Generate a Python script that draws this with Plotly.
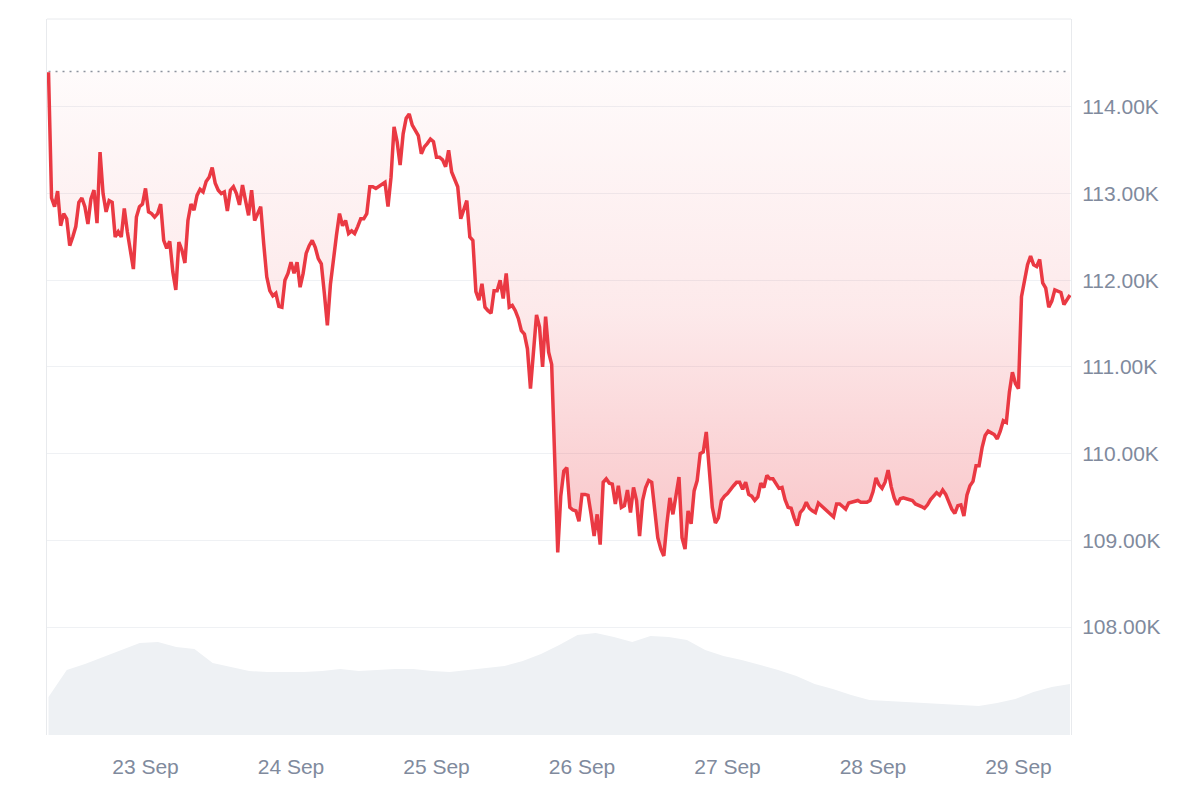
import pandas as pd
import plotly.graph_objects as go

# ---- data (prices in thousands of USD, 30-minute samples) ----
start_time = "2025-09-22 08:00"
step_minutes = 30
open_price_k = 114.41

price_k = [
    114.40, 112.95, 112.85, 113.03, 112.63, 112.77, 112.71, 112.40, 112.50, 112.62,
    112.90, 112.95, 112.85, 112.65, 112.94, 113.04, 112.66, 113.48, 113.00, 112.79,
    112.92, 112.90, 112.50, 112.56, 112.50, 112.83, 112.56, 112.31, 112.13, 112.73,
    112.85, 112.88, 113.06, 112.79, 112.77, 112.73, 112.77, 112.88, 112.46, 112.37,
    112.45, 112.10, 111.89, 112.44, 112.35, 112.20, 112.69, 112.88, 112.81, 112.98,
    113.05, 113.02, 113.14, 113.19, 113.30, 113.12, 113.04, 113.00, 113.02, 112.80,
    113.04, 113.08, 113.00, 112.87, 113.10, 112.92, 112.75, 113.04, 112.69, 112.77,
    112.85, 112.42, 112.04, 111.88, 111.82, 111.85, 111.70, 111.69, 112.00, 112.08,
    112.21, 112.08, 112.21, 111.92, 112.08, 112.31, 112.40, 112.46, 112.38, 112.25,
    112.19, 111.85, 111.48, 111.95, 112.27, 112.52, 112.77, 112.63, 112.69, 112.54,
    112.57, 112.54, 112.62, 112.71, 112.71, 112.77, 113.08, 113.08, 113.06, 113.08,
    113.10, 113.13, 112.85, 113.19, 113.77, 113.60, 113.33, 113.69, 113.87, 113.92,
    113.79, 113.73, 113.67, 113.46, 113.54, 113.58, 113.63, 113.60, 113.42, 113.42,
    113.39, 113.31, 113.50, 113.25, 113.15, 113.08, 112.71, 112.81, 112.92, 112.50,
    112.46, 111.87, 111.77, 111.96, 111.69, 111.65, 111.62, 111.88, 111.88, 112.00,
    111.79, 112.08, 111.69, 111.71, 111.65, 111.56, 111.42, 111.38, 111.21, 110.75,
    111.23, 111.60, 111.46, 111.00, 111.58, 111.17, 111.03, 109.90, 108.86, 109.51,
    109.80, 109.84, 109.38, 109.35, 109.34, 109.22, 109.53, 109.53, 109.52, 109.30,
    109.05, 109.30, 108.95, 109.67, 109.71, 109.66, 109.65, 109.42, 109.63, 109.38,
    109.40, 109.58, 109.32, 109.61, 109.46, 109.05, 109.46, 109.61, 109.69, 109.67,
    109.38, 109.03, 108.90, 108.82, 109.19, 109.49, 109.30, 109.53, 109.73, 109.03,
    108.90, 109.34, 109.19, 109.57, 109.69, 110.00, 110.02, 110.25, 109.76, 109.38,
    109.20, 109.26, 109.46, 109.51, 109.54, 109.59, 109.63, 109.67, 109.67, 109.59,
    109.67, 109.53, 109.51, 109.46, 109.50, 109.66, 109.61, 109.75, 109.71, 109.71,
    109.66, 109.60, 109.61, 109.47, 109.38, 109.37, 109.26, 109.17, 109.32, 109.36,
    109.44, 109.37, 109.34, 109.32, 109.43, 109.40, 109.37, 109.34, 109.31, 109.27,
    109.42, 109.42, 109.39, 109.36, 109.43, 109.44, 109.46, 109.46, 109.44, 109.44,
    109.44, 109.46, 109.56, 109.72, 109.64, 109.60, 109.67, 109.81, 109.62, 109.49,
    109.41, 109.48, 109.49, 109.48, 109.47, 109.46, 109.42, 109.41, 109.39, 109.37,
    109.41, 109.47, 109.51, 109.55, 109.52, 109.58, 109.53, 109.43, 109.36, 109.31,
    109.40, 109.41, 109.28, 109.52, 109.63, 109.68, 109.86, 109.86, 110.07, 110.21,
    110.26, 110.24, 110.22, 110.17, 110.26, 110.38, 110.36, 110.71, 110.94, 110.81,
    110.75, 111.81, 112.00, 112.18, 112.28, 112.18, 112.16, 112.24, 111.97, 111.91,
    111.69, 111.76, 111.89, 111.88, 111.86, 111.72, 111.77, 111.83,
]

# 24h volume (billions USD), roughly every 3 hours
volume_b = [
    30.4, 52.0, 56.8, 62.4, 68.0, 73.6, 74.4, 70.4, 68.8, 57.6,
    54.4, 51.2, 50.4, 50.4, 50.4, 51.2, 52.8, 51.2, 52.0, 52.8,
    52.8, 51.2, 50.4, 52.0, 53.6, 55.2, 59.2, 64.8, 72.0, 80.0,
    81.6, 78.4, 74.4, 79.2, 78.4, 76.0, 68.0, 63.2, 60.0, 56.0,
    52.0, 47.2, 40.8, 36.8, 32.0, 28.0, 27.2, 26.4, 25.6, 24.8,
    24.0, 23.2, 25.6, 28.8, 34.4, 38.4, 40.8,
]

y_ticks_k = [108, 109, 110, 111, 112, 113, 114]
y_tick_text = [f"{v:.2f}K" for v in y_ticks_k]

# ---- build ----
times = pd.date_range(start_time, periods=len(price_k), freq=f"{step_minutes}min")
vol_times = pd.date_range(times[0], times[-1], periods=len(volume_b))

RED = "#ea3943"
GRAY_TXT = "#808a9d"
GRID = "#eff1f4"
FONT = "Liberation Sans, Arial, sans-serif"

fig = go.Figure()

# dotted baseline (open price)
fig.add_trace(go.Scatter(
    x=times, y=[open_price_k] * len(times), mode="lines",
    line=dict(color="#8c929d", width=1.6, dash="2px,5px"),
    hoverinfo="skip", showlegend=False,
))

# price line with gradient fill to the baseline
fig.add_trace(go.Scatter(
    x=times, y=price_k, mode="lines",
    line=dict(color=RED, width=3.5),
    fill="tonexty",
    fillgradient=dict(
        type="vertical",
        start=min(price_k), stop=open_price_k,
        colorscale=[[0, "rgba(234,57,67,0.30)"],
                    [0.5, "rgba(234,57,67,0.11)"],
                    [1, "rgba(234,57,67,0.02)"]],
    ),
    showlegend=False,
))

# volume area
fig.add_trace(go.Scatter(
    x=vol_times, y=volume_b, mode="lines", yaxis="y2",
    line=dict(color="#eef1f4", width=0),
    fill="tozeroy", fillcolor="#eef1f4",
    hoverinfo="skip", showlegend=False,
))

fig.update_layout(
    width=1192, height=792,
    margin=dict(l=39, r=129, t=11, b=65),
    paper_bgcolor="white", plot_bgcolor="white",
    font=dict(family=FONT, size=21, color=GRAY_TXT),
    xaxis=dict(
        type="date",
        range=["2025-09-22 07:45", "2025-09-29 08:40"],
        tick0="2025-09-23", dtick=86400000,
        tickformat="%-d %b",
        showgrid=False, zeroline=False, showline=False,
        ticks="", ticklabelstandoff=17,
        tickfont=dict(family=FONT, size=21, color=GRAY_TXT),
    ),
    yaxis=dict(
        side="right",
        range=[106.754, 115.015],
        tickmode="array", tickvals=y_ticks_k, ticktext=y_tick_text,
        showgrid=True, gridcolor=GRID, gridwidth=1,
        zeroline=False,
        showline=True, mirror=True, linecolor="#e8eaed", linewidth=1,
        ticks="", ticklabelstandoff=6,
        tickfont=dict(family=FONT, size=21, color=GRAY_TXT),
    ),
    yaxis2=dict(
        overlaying="y", range=[0, 572.8], visible=False,
    ),
    shapes=[dict(type="line", xref="paper", yref="paper", x0=0, x1=1, y0=1, y1=1,
                 line=dict(color="#e8eaed", width=1))],
    showlegend=False,
)

fig.write_html("out.html")
